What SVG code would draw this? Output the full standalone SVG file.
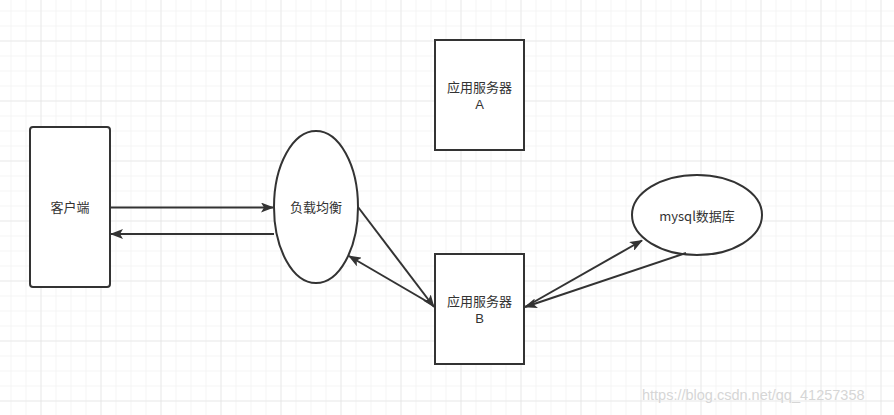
<svg xmlns="http://www.w3.org/2000/svg" width="894" height="415" viewBox="0 0 894 415">
<defs>
<pattern id="minor" width="15" height="15" patternUnits="userSpaceOnUse" x="10.5" y="10.5">
<path d="M15 0H0V15" fill="none" stroke="#ebebeb" stroke-width="1"/>
</pattern>
<pattern id="major" width="60" height="60" patternUnits="userSpaceOnUse" x="40.5" y="40.5">
<path d="M60 0H0V60" fill="none" stroke="#dedede" stroke-width="1"/>
</pattern>
<marker id="arr" viewBox="0 0 13 10" refX="12" refY="5" markerWidth="13" markerHeight="10" markerUnits="userSpaceOnUse" orient="auto">
<path d="M0 0L13 5L0 10L3 5Z" fill="#333"/>
</marker>
<style>
.shape{fill:#fff;stroke:#333;stroke-width:2}
.lbl{font-family:"Noto Sans CJK SC","Liberation Sans",sans-serif;font-size:13px;fill:#333;text-anchor:middle}
.lat{font-family:"Liberation Sans",Arial,sans-serif;font-size:13px;fill:#333;text-anchor:middle}
.edge{fill:none;stroke:#333;stroke-width:2;marker-end:url(#arr)}
</style>
</defs>
<rect width="894" height="415" fill="#fff"/>
<rect width="894" height="415" fill="url(#minor)"/>
<rect width="894" height="415" fill="url(#major)"/>
<g id="client">
<rect class="shape" x="30" y="127" width="80" height="160" rx="3"/>
<text class="lbl" x="70" y="212">客户端</text>
</g>
<g id="lb">
<ellipse class="shape" cx="316" cy="207" rx="42" ry="76"/>
<text class="lbl" x="316" y="212">负载均衡</text>
</g>
<g id="serverA">
<rect class="shape" x="435" y="40" width="89" height="110"/>
<text class="lbl" x="479.5" y="92">应用服务器</text>
<text class="lat" x="479.5" y="109">A</text>
</g>
<g id="serverB">
<rect class="shape" x="435" y="254" width="89" height="110"/>
<text class="lbl" x="479.5" y="306">应用服务器</text>
<text class="lat" x="479.5" y="323">B</text>
</g>
<g id="mysql">
<ellipse class="shape" cx="697" cy="215" rx="65" ry="40"/>
<text class="lbl" x="697" y="221">mysql数据库</text>
</g>
<g id="connectors">
<line class="edge" x1="110" y1="207.5" x2="273" y2="207.5"/>
<line class="edge" x1="274" y1="234" x2="111" y2="234"/>
<line class="edge" x1="358" y1="207" x2="434" y2="307"/>
<line class="edge" x1="433" y1="305" x2="349" y2="256"/>
<line class="edge" x1="525" y1="307" x2="642" y2="240.5"/>
<line class="edge" x1="686" y1="253" x2="525" y2="307"/>
</g>
<text x="642" y="400" font-family="Liberation Sans, Arial, sans-serif" font-size="14.5" fill="#d6d6d6">https://blog.csdn.net/qq_41257358</text>
</svg>
